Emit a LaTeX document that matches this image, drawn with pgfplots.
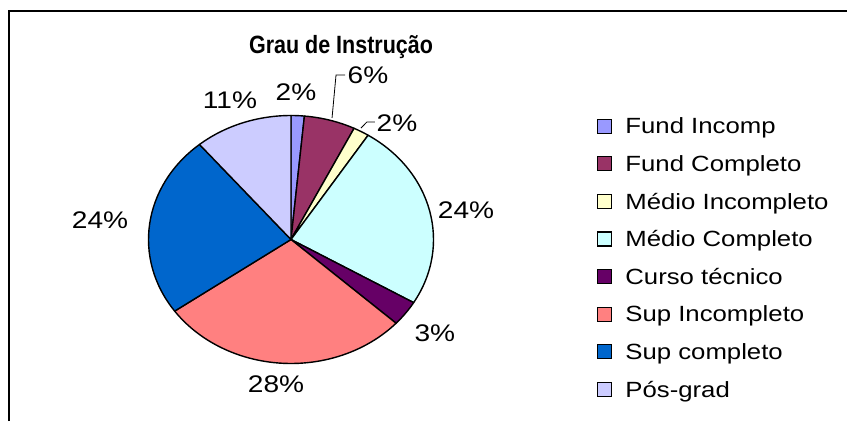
\documentclass[border=0pt]{standalone}
\usepackage{pgfplots}
\pgfplotsset{compat=1.18}
\usepackage{fontspec}
\setmainfont{Liberation Sans}[FakeStretch=1.17]
\newfontfamily\titlefont{Liberation Sans}[FakeStretch=0.86]
\definecolor{cA}{HTML}{9999FF}
\definecolor{cB}{HTML}{993366}
\definecolor{cC}{HTML}{FFFFCC}
\definecolor{cD}{HTML}{CCFFFF}
\definecolor{cE}{HTML}{660066}
\definecolor{cF}{HTML}{FF8080}
\definecolor{cG}{HTML}{0066CC}
\definecolor{cH}{HTML}{CCCCFF}
\begin{document}
\begin{tikzpicture}
\useasboundingbox (0pt,0pt) rectangle (847pt,421pt);
\begin{axis}[
  at={(291pt,181.5pt)}, anchor=center,
  scale only axis, width=285pt, height=248pt,
  xmin=-1, xmax=1, ymin=-1, ymax=1,
  hide axis, clip=false,
  legend cell align=left,
  legend style={draw=none, fill=none, inner sep=0pt, at={(1.5737,1.00706)}, anchor=north west,
    font=\fontsize{22}{26}\selectfont, row sep=13.1pt, column sep=13pt,
    nodes={inner sep=0pt, text height=20pt, text depth=4.5pt}},
  legend image code/.code={\draw[#1, line width=1.2pt] (0pt,-7pt) rectangle (14pt,7pt);},
]
\xdef\astart{90}
\foreach \v/\c in {1.5/cA,5.8/cB,1.8/cC,24.4/cD,3.3/cE,28.4/cF,23.7/cG,11.1/cH}{
  \pgfmathsetmacro\aend{\astart-3.6*\v}
  \edef\tmp{\noexpand\filldraw[fill=\c,draw=black,line width=1.4pt,line join=round] (axis cs:0,0) -- (axis cs:{cos(\astart)},{sin(\astart)}) arc[start angle=\astart,end angle=\aend,x radius=142.5pt,y radius=124pt] -- cycle;}
  \tmp
  \xdef\astart{\aend}
}
\addlegendimage{fill=cA,draw=black}
\addlegendimage{fill=cB,draw=black}
\addlegendimage{fill=cC,draw=black}
\addlegendimage{fill=cD,draw=black}
\addlegendimage{fill=cE,draw=black}
\addlegendimage{fill=cF,draw=black}
\addlegendimage{fill=cG,draw=black}
\addlegendimage{fill=cH,draw=black}
\legend{Fund Incomp, Fund Completo, Médio Incompleto, Médio Completo, Curso técnico, Sup Incompleto, Sup completo, Pós-grad}
\begin{scope}[font=\fontsize{24}{28}\selectfont]
\node at (axis cs:0.035,1.19) {2\%};
\node at (axis cs:0.54,1.327) {6\%};
\node at (axis cs:0.744,0.94) {2\%};
\node at (axis cs:1.228,0.238) {24\%};
\node at (axis cs:1.01,-0.754) {3\%};
\node at (axis cs:-0.105,-1.165) {28\%};
\node at (axis cs:-1.34,0.157) {24\%};
\node at (axis cs:-0.428,1.125) {11\%};
\end{scope}
\draw[line width=0.8pt] (axis cs:0.288,0.98) -- (axis cs:0.316,1.327) -- (axis cs:0.379,1.327);
\draw[line width=0.8pt] (axis cs:0.491,0.899) -- (axis cs:0.533,0.948) -- (axis cs:0.589,0.948);
\node[font=\titlefont\fontsize{25}{28}\selectfont\bfseries] at (axis cs:0.351,1.55) {Grau de Instrução};
\end{axis}
\draw[line width=1.8pt] (9pt,0pt) -- (9pt,410pt) -- (847pt,410pt);
\end{tikzpicture}
\end{document}
